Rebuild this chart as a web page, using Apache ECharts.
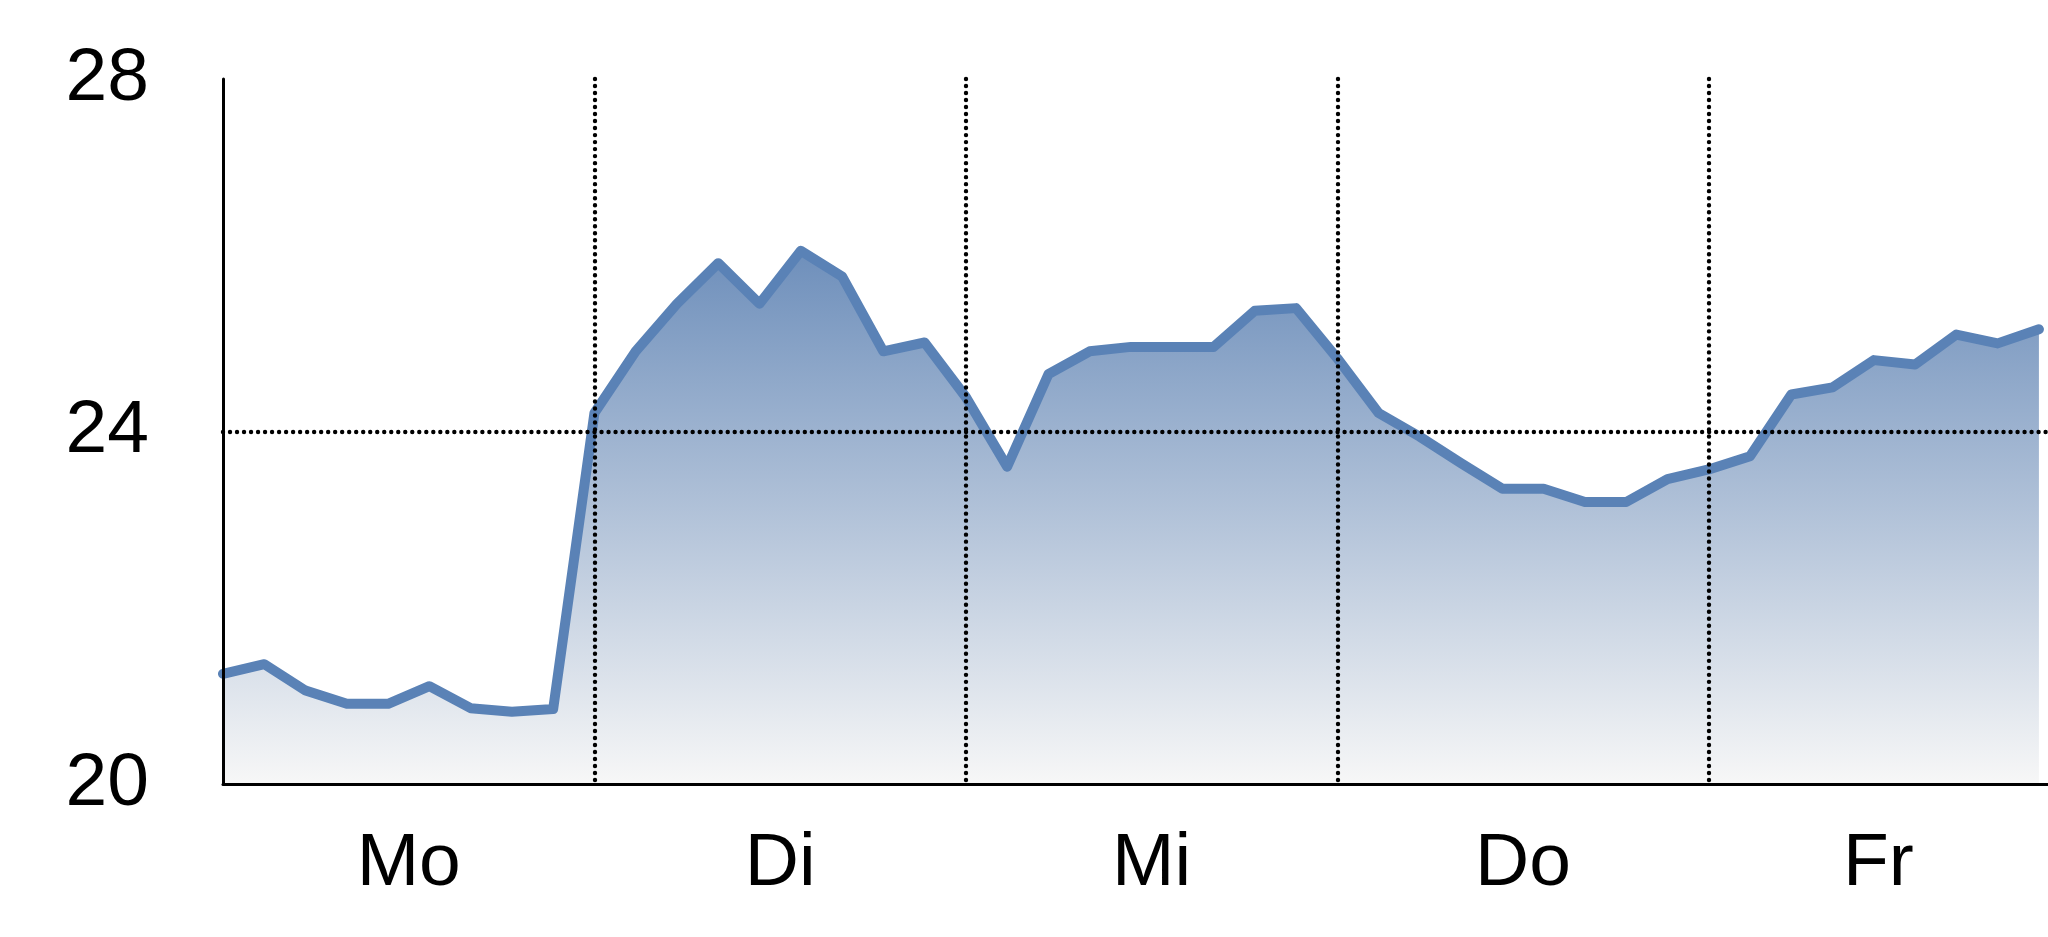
<!DOCTYPE html>
<html>
<head>
<meta charset="utf-8">
<title>Wochenverlauf</title>
<script src="https://cdn.jsdelivr.net/npm/echarts@6/dist/echarts.min.js"></script>
<style>
  html, body { margin: 0; padding: 0; background: #fff; }
  #chart { width: 2048px; height: 937px; }
</style>
</head>
<body>
<div id="chart"></div>
<script>
// day names and where each day starts on the x scale (9 steps per day)
const days = ['Mo', 'Di', 'Mi', 'Do', 'Fr'];
const dayStarts = [0, 9, 18, 27, 36];
const xMax = 44.22;

const yTicks = [20, 24, 28];

// values, one per step
const moValues = [21.25, 21.36, 21.06, 20.91, 20.91, 21.11, 20.86, 20.82, 20.85];
const diValues = [24.21, 24.91, 25.45, 25.91, 25.45, 26.05, 25.76, 24.91, 25.01];
const miValues = [24.39, 23.6, 24.65, 24.91, 24.96, 24.96, 24.96, 25.37, 25.4];
const doValues = [24.83, 24.21, 23.94, 23.64, 23.35, 23.35, 23.2, 23.2, 23.46];
const frValues = [23.57, 23.72, 24.42, 24.5, 24.81, 24.76, 25.1, 25.0, 25.16];

const values = [].concat(moValues, diValues, miValues, doValues, frValues);
const points = values.map((v, i) => [i, v]);

// label sits in the middle of the visible part of each day
const dayCenters = dayStarts.map((s, i) => {
  const end = i + 1 < dayStarts.length ? dayStarts[i + 1] : xMax;
  return (s + end) / 2;
});

const font = "'Liberation Sans Narrow', 'Arial Narrow', 'Liberation Sans', Arial, sans-serif";
const dotted = { color: '#000', width: 4.4, type: [0.01, 7], cap: 'round' };

const chart = echarts.init(document.getElementById('chart'));

chart.setOption({
  animation: false,
  backgroundColor: '#fff',
  grid: {
    left: 223,
    right: 0,
    top: 79,
    bottom: 153,
  },
  xAxis: {
    type: 'value',
    min: 0,
    max: xMax,
    interval: 9,
    z: 10,
    axisLine: { show: true, lineStyle: { color: '#000', width: 3 } },
    axisTick: { show: false },
    axisLabel: {
      customValues: dayCenters,
      formatter: (value) => days[dayCenters.indexOf(value)] || '',
      fontFamily: font,
      fontSize: 75,
      lineHeight: 75,
      color: '#000',
      margin: 43,
    },
    splitLine: {
      show: true,
      showMinLine: false,
      showMaxLine: false,
      lineStyle: dotted,
    },
  },
  yAxis: {
    type: 'value',
    min: yTicks[0],
    max: yTicks[yTicks.length - 1],
    interval: 4,
    z: 10,
    axisLine: { show: true, lineStyle: { color: '#000', width: 3 } },
    axisTick: { show: false },
    axisLabel: {
      fontFamily: font,
      fontSize: 75,
      color: '#000',
      margin: 74,
    },
    splitLine: {
      show: true,
      showMinLine: false,
      showMaxLine: false,
      lineStyle: dotted,
    },
  },
  series: [
    {
      type: 'line',
      data: points,
      symbol: 'none',
      z: 1,
      lineStyle: { color: '#5a82b6', width: 10, join: 'round', cap: 'round' },
      areaStyle: {
        opacity: 1,
        color: new echarts.graphic.LinearGradient(0, 0, 0, 1, [
          { offset: 0, color: '#6e8fbb' },
          { offset: 1, color: '#f7f7f7' },
        ]),
      },
    },
  ],
});
</script>
</body>
</html>
